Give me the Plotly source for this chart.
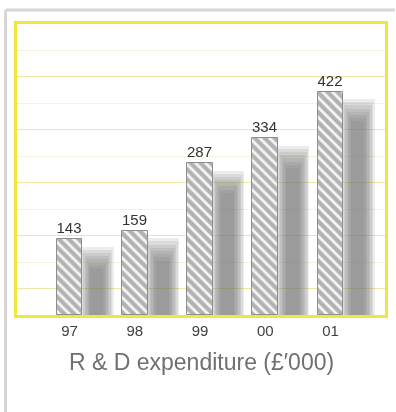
import plotly.graph_objects as go

# R & D expenditure, £'000, by year
years = ["97", "98", "99", "00", "01"]
spend = [143, 159, 287, 334, 422]

W, H = 396, 412
# plot-area box in pixels
PL, PR, PT, PB = 17, 388, 24, 315
pw, ph = PR - PL, PB - PT

pos = list(range(len(years)))

fig = go.Figure()

# soft drop shadow: stacked translucent bars, wider and taller layers outside
shadow_dx = 0.42
shadow_drop = 38
layers = 8
for k in range(layers):
    width = 0.20 + k * 0.045
    top = [v - shadow_drop + (k - 3) * 6 for v in spend]
    fig.add_trace(go.Bar(
        x=[p + shadow_dx for p in pos], y=top, width=width,
        marker=dict(color="#707070", line=dict(width=0)),
        opacity=0.13, hoverinfo="skip", showlegend=False,
    ))

# twisted-rope bars
fig.add_trace(go.Bar(
    x=pos, y=spend, width=0.395,
    marker=dict(
        color="#b8b8b8",
        line=dict(color="#8e8e8e", width=1),
        pattern=dict(shape="\\", fgcolor="#f6f6f6", bgcolor="#b2b2b2",
                     size=7, solidity=0.4, fillmode="replace"),
    ),
    text=[str(v) for v in spend], textposition="outside",
    textfont=dict(family="Liberation Sans", size=15, color="#333333"),
    cliponaxis=False, showlegend=False,
))

fig.add_annotation(
    text="R & D expenditure (£′000)", xref="paper", yref="paper",
    x=0.5, y=(PB - 362) / ph, xanchor="center", yanchor="middle",
    showarrow=False,
    font=dict(family="Liberation Sans", size=23, color="#707070"),
)

# light grey outer frame (left and top edges)
def px(xp):
    return (xp - PL) / pw

def py(yp):
    return (PB - yp) / ph

fig.add_shape(type="line", xref="paper", yref="paper",
              x0=px(5.5), x1=px(W + 2), y0=py(10), y1=py(10),
              line=dict(color="#d6d6d6", width=3))
fig.add_shape(type="line", xref="paper", yref="paper",
              x0=px(5.5), x1=px(5.5), y0=py(10), y1=py(H + 2),
              line=dict(color="#d6d6d6", width=3))

fig.update_layout(
    width=W, height=H,
    margin=dict(l=PL, r=W - PR, t=PT, b=H - PB, pad=0),
    paper_bgcolor="white", plot_bgcolor="white",
    barmode="overlay", bargap=0,
    showlegend=False,
    xaxis=dict(
        range=[-0.806, 4.836], tickvals=pos, ticktext=years,
        showgrid=False, zeroline=False, ticks="",
        showline=True, mirror=True, linecolor="#f0e63c", linewidth=2.5,
        tickfont=dict(family="Liberation Sans", size=15, color="#404040"),
    ),
    yaxis=dict(
        range=[0, 550], dtick=100, showticklabels=False, ticks="",
        showgrid=True, gridcolor="#f6f3da", gridwidth=1,
        minor=dict(dtick=50, showgrid=True, gridcolor="#ece7a6", gridwidth=1.2),
        zeroline=False,
        showline=True, mirror=True, linecolor="#f0e63c", linewidth=2.5,
    ),
)

fig.write_html("out.html")
